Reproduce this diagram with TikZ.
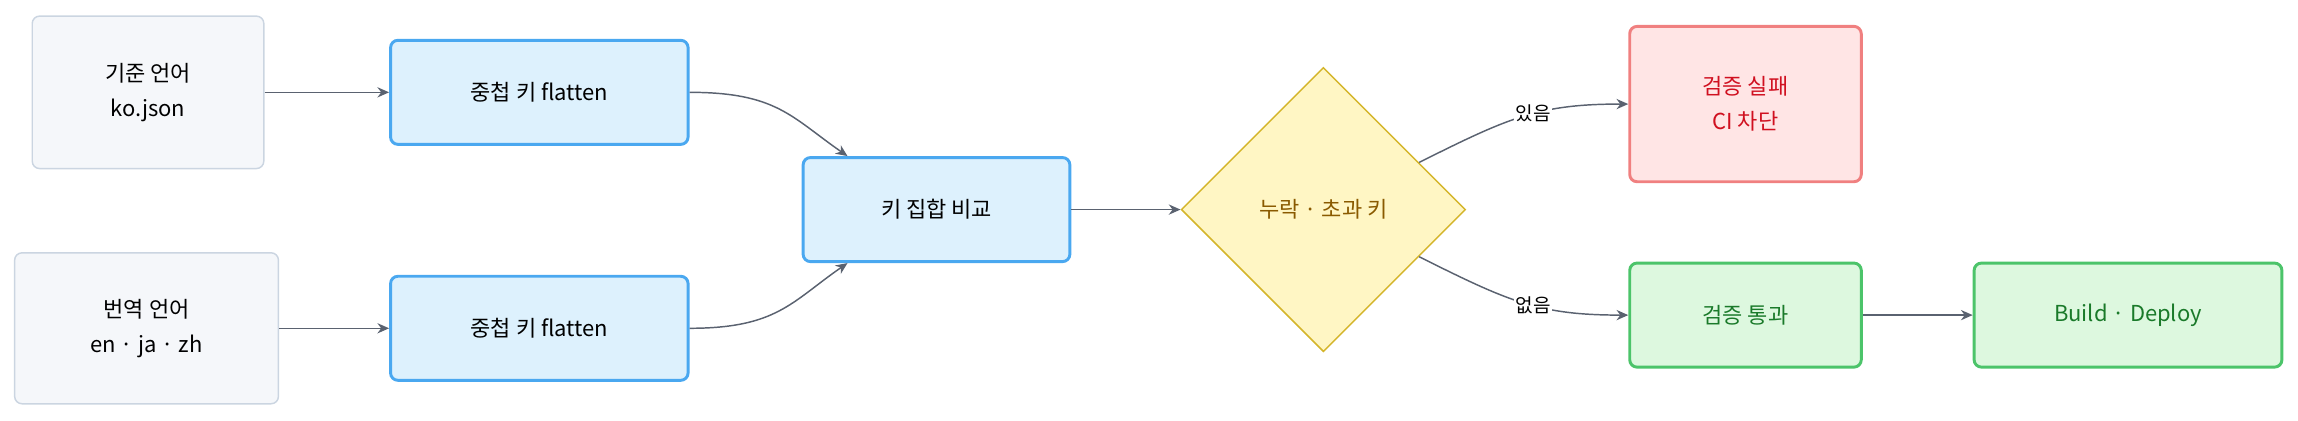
\documentclass[tikz,border=0pt]{standalone}
\usepackage{fontspec}
\setmainfont{Noto Sans CJK KR}
\usetikzlibrary{shapes.geometric,arrows.meta,calc}
\definecolor{gfill}{HTML}{F5F7FA}\definecolor{gdraw}{HTML}{CBD5E1}
\definecolor{bfill}{HTML}{DDF1FD}\definecolor{bdraw}{HTML}{4AA8F0}
\definecolor{yfill}{HTML}{FFF6C4}\definecolor{ydraw}{HTML}{D4B52A}\definecolor{ytext}{HTML}{8A5A00}
\definecolor{rfill}{HTML}{FFE5E5}\definecolor{rdraw}{HTML}{F08080}\definecolor{rtext}{HTML}{D01020}
\definecolor{nfill}{HTML}{DDF8DF}\definecolor{ndraw}{HTML}{4CC46A}\definecolor{ntext}{HTML}{1A7A2A}
\definecolor{arr}{HTML}{5A6270}
\tikzset{
 base/.style={rounded corners=5pt,align=center,font=\fontsize{15}{24}\selectfont,inner sep=0pt},
 gray/.style={base,fill=gfill,draw=gdraw,line width=1pt},
 blue/.style={base,fill=bfill,draw=bdraw,line width=2pt,minimum width=203pt,minimum height=71pt},
 red/.style={base,fill=rfill,draw=rdraw,line width=2pt,text=rtext,minimum width=158pt,minimum height=106pt},
 green/.style={base,fill=nfill,draw=ndraw,line width=2pt,text=ntext,minimum height=71pt},
 dia/.style={diamond,fill=yfill,draw=ydraw,line width=1pt,text=ytext,font=\fontsize{15}{18}\selectfont,minimum width=194pt,minimum height=194pt,inner sep=0pt},
 ar/.style={draw=arr,line width=1pt,-{Stealth[length=8pt,width=7pt]}},
 lab/.style={fill=white,font=\fontsize{13}{15}\selectfont,inner sep=1pt}
}
\begin{document}
\begin{tikzpicture}[x=1pt,y=-1pt]
\useasboundingbox (0,0) rectangle (1568,287);
\node[gray,minimum width=158pt,minimum height=104pt] (ko) at (101,63) {기준 언어\\ko.json};
\node[gray,minimum width=180pt,minimum height=103pt] (en) at (100,224) {번역 언어\\en · ja · zh};
\node[blue] (f1) at (368,63) {중첩 키 flatten};
\node[blue] (f2) at (368,224) {중첩 키 flatten};
\node[blue,minimum width=182pt] (cmp) at (639,143) {키 집합 비교};
\node[dia] (d) at (903,143) {누락 · 초과 키};
\node[red] (fail) at (1191,71) {검증 실패\\CI 차단};
\node[green,minimum width=158pt] (pass) at (1191,215) {검증 통과};
\node[green,minimum width=210pt] (dep) at (1452,215) {Build · Deploy};
\draw[ar] (ko) -- (f1);
\draw[ar] (en) -- (f2);
\draw[ar] (f1.east) .. controls (530,63) and (540,80) .. ($(cmp.north west)!0.17!(cmp.north east)$);
\draw[ar] (f2.east) .. controls (530,224) and (540,206) .. ($(cmp.south west)!0.17!(cmp.south east)$);
\draw[ar] (cmp) -- (d);
\coordinate (du) at ($(d.east)!0.33!(d.north)$);
\coordinate (dd) at ($(d.east)!0.33!(d.south)$);
\draw[ar] (du) .. controls (1030,80) and (1050,71) .. (fail.west) node[lab,pos=0.55] {있음};
\draw[ar] (dd) .. controls (1030,206) and (1050,215) .. (pass.west) node[lab,pos=0.55] {없음};
\draw[ar] (pass) -- (dep);
\end{tikzpicture}
\end{document}
